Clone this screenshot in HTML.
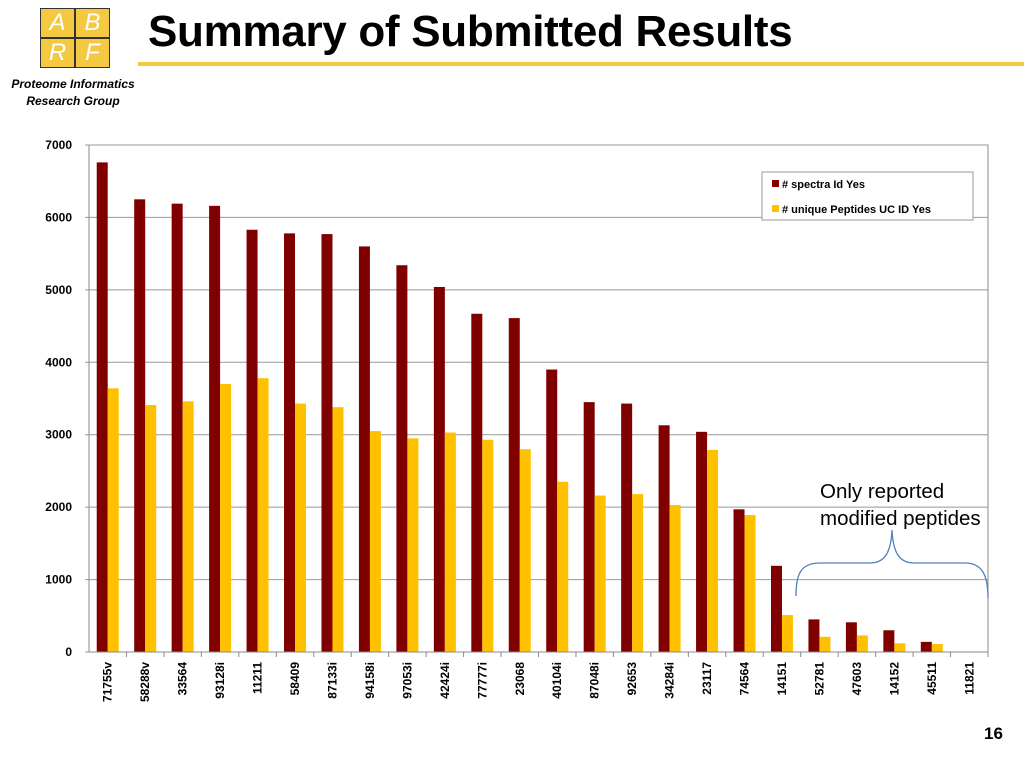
<!DOCTYPE html>
<html><head><meta charset="utf-8"><style>
body{margin:0;width:1024px;height:768px;background:#fff;overflow:hidden;font-family:"Liberation Sans",sans-serif;position:relative}
.logo{position:absolute;left:40px;top:8px;width:68px;height:58px;display:grid;grid-template-columns:1fr 1fr;gap:2px;background:#333;padding:1px}
.logo div{background:#f5c842;color:#fff;font-size:24px;display:flex;align-items:center;justify-content:center;font-style:italic}
</style></head><body>
<div class="logo"><div>A</div><div>B</div><div>R</div><div>F</div></div>
<div style="position:absolute;left:0;top:76px;width:146px;text-align:center;font-size:12px;font-weight:bold;font-style:italic;line-height:17px">Proteome Informatics<br>Research Group</div>
<div style="position:absolute;left:148px;top:7px;font-size:44px;font-weight:bold;letter-spacing:-0.3px">Summary of Submitted Results</div>
<div style="position:absolute;left:138px;top:62px;width:886px;height:4px;background:#f5c842"></div>
<div style="position:absolute;left:984px;top:724px;font-size:17px;font-weight:bold">16</div>
<svg id="chart" width="1024" height="768" style="position:absolute;left:0;top:0"></svg>
<script>
const categories=["71755v","58288v","33564","93128i","11211","58409","87133i","94158i","97053i","42424i","77777i","23068","40104i","87048i","92653","34284i","23117","74564","14151","52781","47603","14152","45511","11821"];
const spectraValues=[6760,6250,6190,6160,5830,5780,5770,5600,5340,5040,4670,4610,3900,3450,3430,3130,3040,1970,1190,450,410,300,140,5];
const uniqueValues=[3640,3410,3460,3700,3780,3430,3380,3050,2950,3030,2930,2800,2350,2160,2180,2030,2790,1890,510,210,230,120,110,5];
const yTicks=[0,1000,2000,3000,4000,5000,6000,7000];
const NS='http://www.w3.org/2000/svg',svg=document.getElementById('chart');
const X0=89,X1=988,Y0=652,Y1=145,YMAX=7000;
const gw=(X1-X0)/categories.length;
const y=v=>Y0-(v/YMAX)*(Y0-Y1);
function mk(t,a,txt){const e=document.createElementNS(NS,t);for(const k in a)e.setAttribute(k,a[k]);if(txt!==undefined)e.textContent=txt;svg.appendChild(e);return e;}
let e=mk('rect',{x:X0,y:Y1,width:X1-X0,height:Y0-Y1,fill:'none',stroke:'#888'});

yTicks.forEach(t=>{
 let g=mk('line',{x1:X0-4,x2:X1,y1:y(t),y2:y(t),stroke:'#999','stroke-width':1});
 
 let l=mk('text',{x:X0-17,y:y(t)+4,'text-anchor':'end','font-size':12,'font-weight':'bold'},t);
 
});
categories.forEach((c,i)=>{
 const cx=X0+gw*(i+0.5);
 let tk=mk('line',{x1:X0+gw*(i+1),x2:X0+gw*(i+1),y1:Y0,y2:Y0+5,stroke:'#888'});
 
 let b=mk('rect',{x:cx-11,y:y(spectraValues[i]),width:11,height:Y0-y(spectraValues[i]),fill:'#800000'});
 
 let b2=mk('rect',{x:cx,y:y(uniqueValues[i]),width:11,height:Y0-y(uniqueValues[i]),fill:'#ffc000'});
 
 let t=mk('text',{x:0,y:0,'text-anchor':'end','font-size':12,'font-weight':'bold',transform:`translate(${cx+4},${Y0+10}) rotate(-90)`},c);
 
});
let ax=mk('line',{x1:X0,x2:X1,y1:Y0,y2:Y0,stroke:'#888'});

let lg=mk('rect',{x:762,y:172,width:211,height:48,fill:'#fff',stroke:'#999'});

let s1=mk('rect',{x:772,y:180,width:7,height:7,fill:'#800000'});
let l1=mk('text',{x:782,y:188,'font-size':11,'font-weight':'bold'},'# spectra Id Yes');
let s2=mk('rect',{x:772,y:205,width:7,height:7,fill:'#ffc000'});
let l2=mk('text',{x:782,y:213,'font-size':11,'font-weight':'bold'},'# unique Peptides UC ID Yes');
let a1=mk('text',{x:820,y:498,'font-size':20.5},'Only reported');
let a2=mk('text',{x:820,y:525,'font-size':20.5},'modified peptides');
let br=mk('path',{d:'M796,596 C796,575 800,563 820,563 L870,563 C885,563 891,552 892,530 C893,552 899,563 914,563 L965,563 C982,563 988,575 988,598',fill:'none',stroke:'#4f81bd','stroke-width':1.3});

</script>
</body></html>
